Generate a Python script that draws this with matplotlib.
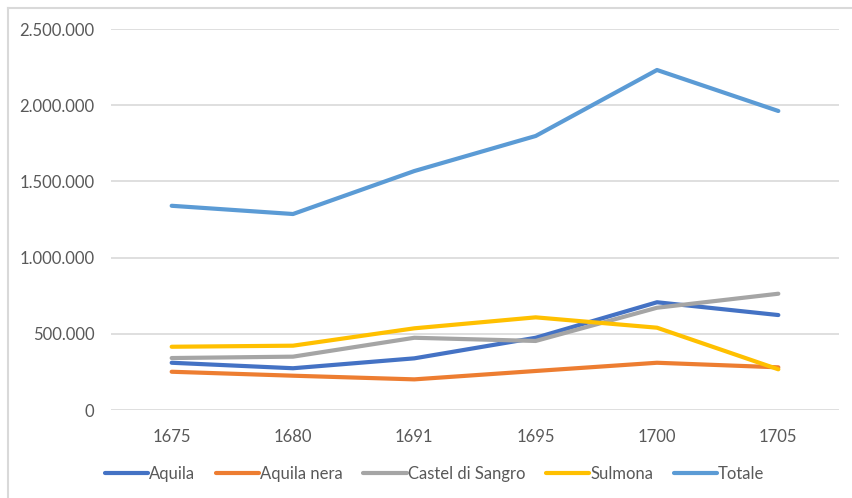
import matplotlib
matplotlib.use("Agg")
import matplotlib.pyplot as plt
from matplotlib.lines import Line2D
from matplotlib.ticker import FuncFormatter, MultipleLocator

years = ["1675", "1680", "1691", "1695", "1700", "1705"]
aquila = [310000, 274000, 339000, 474000, 707000, 623000]
aquila_nera = [251000, 225000, 201000, 256000, 310000, 280000]
castel_di_sangro = [341000, 350000, 474000, 453000, 671000, 763000]
sulmona = [415000, 422000, 536000, 608000, 540000, 267000]
totale = [1340000, 1286000, 1568000, 1798000, 2231000, 1962000]

series_names = ["Aquila", "Aquila nera", "Castel di Sangro", "Sulmona", "Totale"]
series_values = [aquila, aquila_nera, castel_di_sangro, sulmona, totale]
colors = ["#4472C4", "#ED7D31", "#A5A5A5", "#FFC000", "#5B9BD5"]

plt.rcParams['font.family'] = ['Lato', 'DejaVu Sans']
txt_color = "#595959"
W, H = 852, 498
fig = plt.figure(figsize=(W / 100, H / 100), dpi=100)
fig.patch.set_facecolor("white")

left, right, top, bottom = 111, 839, 29, 410
ax = fig.add_axes([left / W, 1 - bottom / H, (right - left) / W, (bottom - top) / H])

x = list(range(len(years)))
handles = []
for name, vals, c in zip(series_names, series_values, colors):
    ln, = ax.plot(x, vals, color=c, linewidth=3.0, solid_capstyle='round',
                  solid_joinstyle='round', label=name, zorder=3)
    handles.append(ln)

ax.set_xlim(-0.5, len(years) - 0.5)
ax.set_ylim(0, 2500000)
ax.yaxis.set_major_locator(MultipleLocator(500000))
ax.yaxis.set_major_formatter(FuncFormatter(lambda v, p: f"{int(v):,}".replace(",", ".")))
ax.set_xticks(x)
ax.set_xticklabels(years)
ax.grid(axis='y', color='#d9d9d9', linewidth=1.2, zorder=0)
ax.set_axisbelow(True)
for s in ax.spines.values():
    s.set_visible(False)
ax.tick_params(axis='both', length=0, colors=txt_color, labelsize=12)
ax.tick_params(axis='y', pad=12)
ax.tick_params(axis='x', pad=14)

leg = fig.legend(handles=handles, loc='center', bbox_to_anchor=(0.51, 1 - 474 / H),
                 ncol=5, frameon=False, fontsize=12, handlelength=2.6,
                 handletextpad=0.05, columnspacing=1.25, labelcolor=txt_color)
for lh in leg.get_lines():
    lh.set_linewidth(3.0)
    lh.set_solid_capstyle('round')

# outer chart border (left and top)
bc = '#d9d9d9'
fig.add_artist(Line2D([7.5 / W, 7.5 / W], [0, 1 - 8 / H], color=bc, linewidth=1.5,
                      transform=fig.transFigure))
fig.add_artist(Line2D([7.5 / W, 1], [1 - 8 / H, 1 - 8 / H], color=bc, linewidth=1.5,
                      transform=fig.transFigure))

fig.savefig("out.png", dpi=100, facecolor="white")
